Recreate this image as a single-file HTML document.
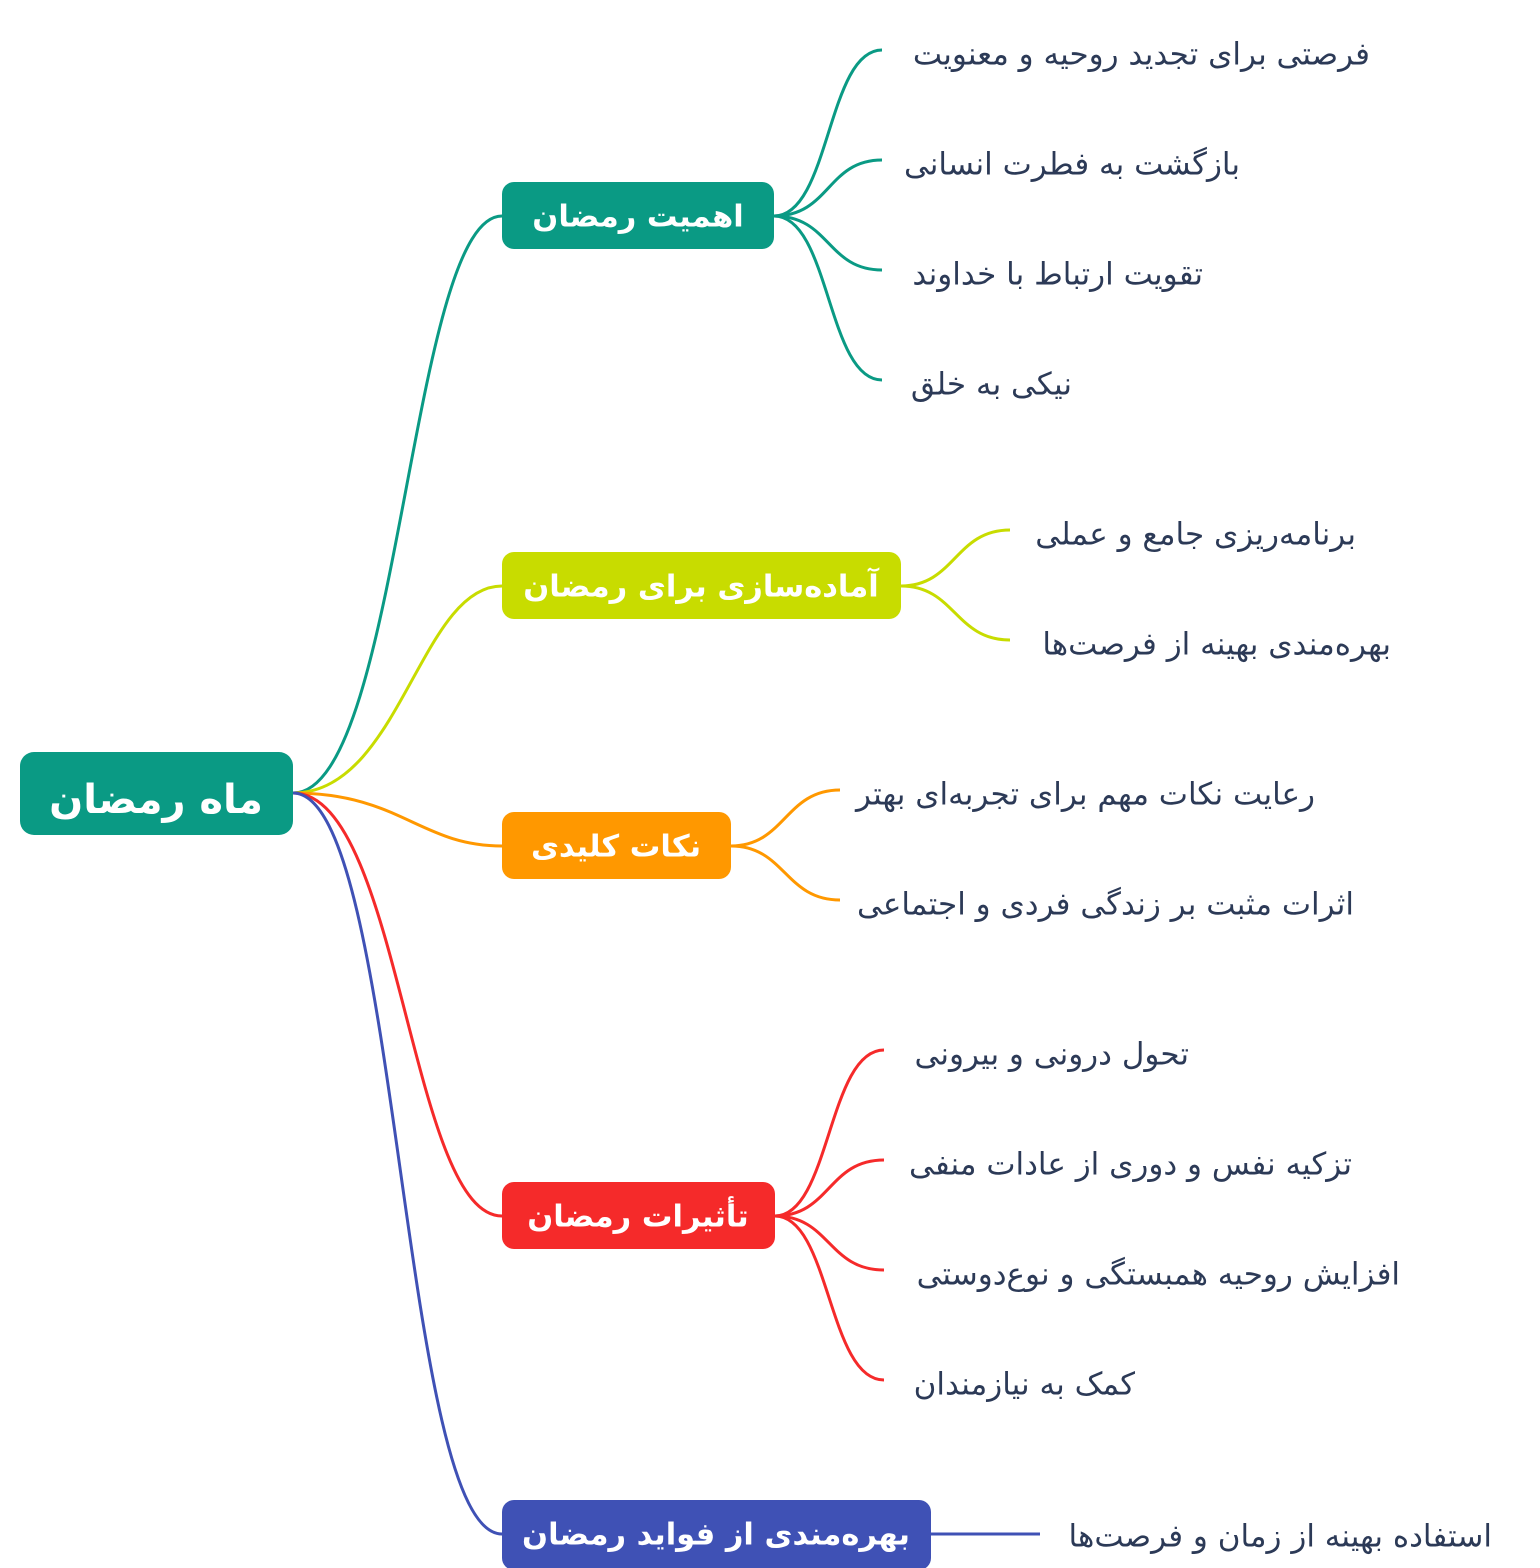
<!DOCTYPE html>
<html><head><meta charset="utf-8"><style>
html,body{margin:0;padding:0;background:#fff;}
svg{display:block;}
text{font-family:"DejaVu Sans","Noto Sans CJK SC",sans-serif;}
.c{font-size:31px;fill:#2c3a57;}
.b{font-size:30.5px;fill:#fff;font-weight:bold;}
</style></head><body>
<svg width="1540" height="1568" viewBox="0 0 1540 1568" xmlns="http://www.w3.org/2000/svg">
<g fill="none" stroke-width="3">
<path d="M293,793 C400,793 410,216 502,216" stroke="#0a9a84"/>
<path d="M293,793 C400,793 420,586 502,586" stroke="#c8dc00"/>
<path d="M293,793 C400,793 420,846 502,846" stroke="#ff9800"/>
<path d="M293,793 C400,793 410,1216 502,1216" stroke="#f52a2a"/>
<path d="M293,793 C400,793 400,1534 502,1534" stroke="#3f51b5"/>
<g stroke="#0a9a84">
<path d="M774,216 C830,216 827,50 882,50"/>
<path d="M774,216 C830,216 827,160 882,160"/>
<path d="M774,216 C830,216 827,270 882,270"/>
<path d="M774,216 C830,216 827,380 882,380"/>
</g>
<g stroke="#c8dc00">
<path d="M901,586 C955,586 955,530 1010,530"/>
<path d="M901,586 C955,586 955,640 1010,640"/>
</g>
<g stroke="#ff9800">
<path d="M731,846 C785,846 785,790 840,790"/>
<path d="M731,846 C785,846 785,900 840,900"/>
</g>
<g stroke="#f52a2a">
<path d="M775,1216 C830,1216 828,1050 884,1050"/>
<path d="M775,1216 C830,1216 828,1160 884,1160"/>
<path d="M775,1216 C830,1216 828,1270 884,1270"/>
<path d="M775,1216 C830,1216 828,1380 884,1380"/>
</g>
<path d="M931,1534 L1040,1534" stroke="#3f51b5"/>
</g>
<rect x="20" y="752" width="273" height="83" rx="14" fill="#0a9a84"/>
<text x="156" y="802" text-anchor="middle" style="font-size:40px;font-weight:bold;fill:#fff" dominant-baseline="middle">ماه رمضان</text>
<rect x="502" y="182" width="272" height="67" rx="12" fill="#0a9a84"/>
<text class="b" x="638" y="218" text-anchor="middle" dominant-baseline="middle">اهمیت رمضان</text>
<rect x="502" y="552" width="399" height="67" rx="12" fill="#c8dc00"/>
<text class="b" x="701" y="588" text-anchor="middle" dominant-baseline="middle">آماده‌سازی برای رمضان</text>
<rect x="502" y="812" width="229" height="67" rx="12" fill="#ff9800"/>
<text class="b" x="616" y="848" text-anchor="middle" dominant-baseline="middle">نکات کلیدی</text>
<rect x="502" y="1182" width="273" height="67" rx="12" fill="#f52a2a"/>
<text class="b" x="638" y="1218" text-anchor="middle" dominant-baseline="middle">تأثیرات رمضان</text>
<rect x="502" y="1500" width="429" height="70" rx="12" fill="#3f51b5"/>
<text class="b" x="716" y="1536" text-anchor="middle" dominant-baseline="middle">بهره‌مندی از فواید رمضان</text>
<g class="c" dominant-baseline="middle" text-anchor="end">
<text class="c" x="1370" y="56">فرصتی برای تجدید روحیه و معنویت</text>
<text class="c" x="1240" y="166">بازگشت به فطرت انسانی</text>
<text class="c" x="1203" y="276">تقویت ارتباط با خداوند</text>
<text class="c" x="1072" y="386">نیکی به خلق</text>
<text class="c" x="1356" y="536">برنامه‌ریزی جامع و عملی</text>
<text class="c" x="1391" y="646">بهره‌مندی بهینه از فرصت‌ها</text>
<text class="c" x="1315" y="796">رعایت نکات مهم برای تجربه‌ای بهتر</text>
<text class="c" x="1354" y="906">اثرات مثبت بر زندگی فردی و اجتماعی</text>
<text class="c" x="1189" y="1056">تحول درونی و بیرونی</text>
<text class="c" x="1352" y="1166">تزکیه نفس و دوری از عادات منفی</text>
<text class="c" x="1400" y="1276">افزایش روحیه همبستگی و نوع‌دوستی</text>
<text class="c" x="1135" y="1386">کمک به نیازمندان</text>
<text class="c" x="1492" y="1538">استفاده بهینه از زمان و فرصت‌ها</text>
</g>
</svg>
</body></html>
